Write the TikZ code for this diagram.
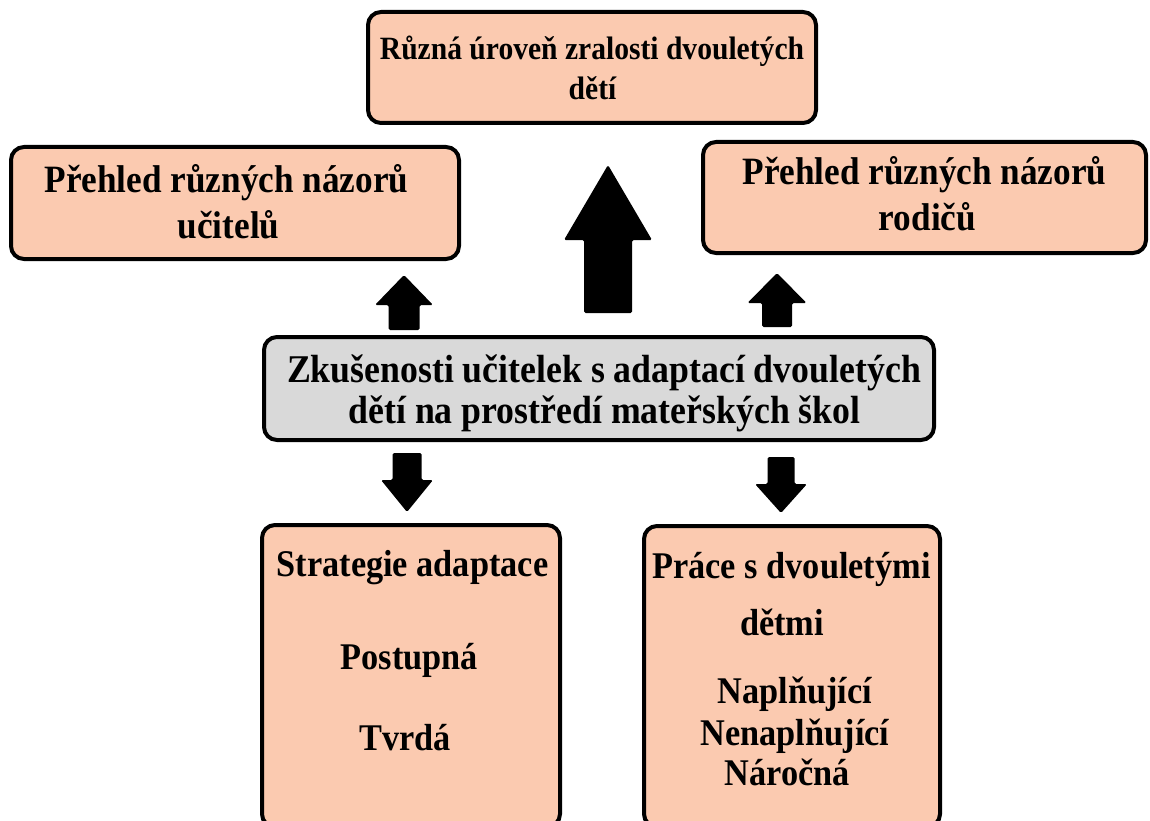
\documentclass[tikz,border=0pt]{standalone}
\usepackage{fontspec}
\newfontfamily\dfont{Liberation Serif Bold}[FakeStretch=0.91]
\definecolor{peach}{RGB}{251,202,176}
\definecolor{greybox}{RGB}{217,217,217}
\tikzset{
  box/.style={draw=black, line width=4pt, rounded corners=13pt, fill=peach,
    rectangle, inner sep=0pt},
  greyframe/.style={box, fill=greybox},
  txtbig/.style={font=\dfont\fontsize{38.7}{42}\selectfont, anchor=base, inner sep=0pt},
  txtctr/.style={font=\dfont\fontsize{39.3}{42}\selectfont, anchor=base, inner sep=0pt},
  txtmid/.style={font=\dfont\fontsize{37.7}{42}\selectfont, anchor=base, inner sep=0pt},
  txtsmall/.style={font=\dfont\fontsize{32.5}{36}\selectfont, anchor=base, inner sep=0pt},
  blockarrow/.style={fill=black, rounded corners=1.5pt},
}
\begin{document}
\begin{tikzpicture}[x=1pt,y=-1pt]
\useasboundingbox (0,0) rectangle (1150,821);
\fill[white] (0,0) rectangle (1150,821);
\clip (0,0) rectangle (1150,821);

% boxes
\node[box, minimum width=448pt, minimum height=111pt] (top) at (592,67.5) {};
\node[box, minimum width=448pt, minimum height=112pt] (left) at (235,203) {};
\node[box, minimum width=443pt, minimum height=111pt] (right) at (924.5,197.5) {};
\node[greyframe, minimum width=670pt, minimum height=103pt] (centre) at (599,388.5) {};
\node[box, minimum width=298pt, minimum height=302pt] (bl) at (411,676) {};
\node[box, minimum width=296pt, minimum height=301pt] (br) at (792,676.5) {};

% texts
\node[txtsmall] (t1) at (592,60) {Různá úroveň zralosti dvouletých};
\node[txtsmall] (t2) at (592.5,100) {dětí};
\node[txtbig] (l1) at (226.5,193) {Přehled různých názorů};
\node[txtbig] (l2) at (228.5,238) {učitelů};
\node[txtbig] (r1) at (924.5,185) {Přehled různých názorů};
\node[txtbig] (r2) at (927.5,230) {rodičů};
\node[txtctr] (c1) at (604,382) {Zkušenosti učitelek s adaptací dvouletých};
\node[txtctr] (c2) at (604.5,423) {dětí na prostředí mateřských škol};
\node[txtmid] (b1) at (412.5,576) {Strategie adaptace};
\node[txtmid] (b2) at (409.5,669) {Postupná};
\node[txtmid] (b3) at (405,750) {Tvrdá};
\node[txtmid] (p1) at (791.5,578) {Práce s dvouletými};
\node[txtmid] (p2) at (782,635) {dětmi};
\node[txtmid] (p3) at (795,703) {Naplňující};
\node[txtmid] (p4) at (795,745) {Nenaplňující};
\node[txtmid] (p5) at (787.5,785) {Náročná};

% block arrows (centre box -> others)
\fill[blockarrow] (608,165) -- (652,240) -- (632,240) -- (632,313) -- (584,313) -- (584,240) -- (564,240) -- cycle;
\fill[blockarrow] (404,275) -- (433,305) -- (419.5,305) -- (419.5,330) -- (388.5,330) -- (388.5,305) -- (375,305) -- cycle;
\fill[blockarrow] (777,273) -- (806.5,303) -- (792,303) -- (792,327) -- (762,327) -- (762,303) -- (747.5,303) -- cycle;
\fill[blockarrow] (407,512) -- (433,480) -- (421.5,480) -- (421.5,453) -- (392.5,453) -- (392.5,480) -- (381,480) -- cycle;
\fill[blockarrow] (781,513) -- (807,484) -- (794.5,484) -- (794.5,457) -- (767.5,457) -- (767.5,484) -- (755,484) -- cycle;
\end{tikzpicture}
\end{document}
